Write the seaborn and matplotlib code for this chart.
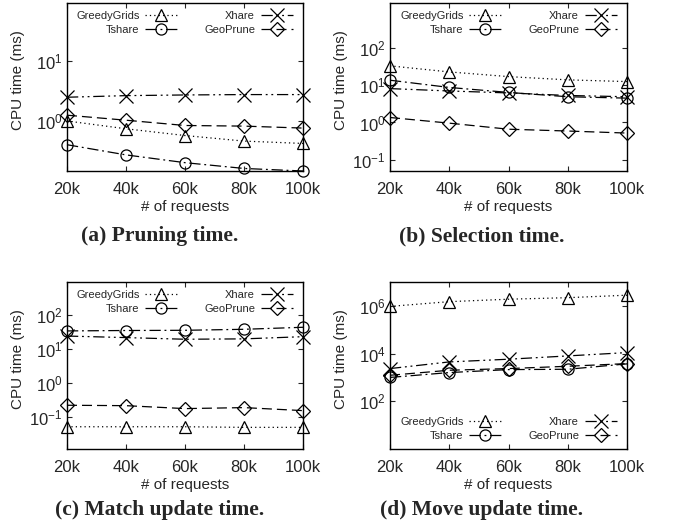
"""Four-panel CPU time comparison (pruning, selection, match update, move update)."""

import matplotlib
matplotlib.use("Agg")
import matplotlib.pyplot as plt
import matplotlib.ticker as mticker
import pandas as pd
import seaborn as sns

# ---- data -------------------------------------------------------------
requests = [20000, 40000, 60000, 80000, 100000]
request_labels = ["20k", "40k", "60k", "80k", "100k"]
methods = ["GreedyGrids", "Tshare", "Xhare", "GeoPrune"]

# (a) pruning time
greedy_a = [1.0, 0.74, 0.57, 0.46, 0.42]
tshare_a = [0.40, 0.27, 0.20, 0.16, 0.145]
xhare_a = [2.5, 2.66, 2.73, 2.77, 2.77]
geo_a = [1.25, 1.03, 0.84, 0.82, 0.76]

# (b) selection time
greedy_b = [33, 22.7, 17, 13.9, 12.5]
tshare_b = [13.6, 8.7, 6.4, 4.9, 4.5]
xhare_b = [8.1, 7.0, 6.2, 5.3, 4.9]
geo_b = [1.36, 0.96, 0.66, 0.59, 0.52]

# (c) match update time
greedy_c = [0.05, 0.05, 0.05, 0.048, 0.048]
tshare_c = [34, 35, 35.5, 38, 43.6]
xhare_c = [24, 21.6, 19.3, 19.8, 23]
geo_c = [0.216, 0.21, 0.172, 0.184, 0.15]

# (d) move update time
greedy_d = [0.95e6, 1.5e6, 1.9e6, 2.2e6, 2.8e6]
tshare_d = [1000, 1600, 2130, 2200, 3700]
xhare_d = [2350, 4470, 5800, 7970, 11000]
geo_d = [1230, 2000, 2350, 2940, 3800]

captions = ["(a) Pruning time.", "(b) Selection time.",
            "(c) Match update time.", "(d) Move update time."]

# ---- style ------------------------------------------------------------
sns.set_style("ticks")
plt.rcParams["font.family"] = ["Liberation Sans", "DejaVu Sans"]
plt.rcParams.update({
    "axes.linewidth": 1.0,
    "axes.unicode_minus": False,
    "xtick.direction": "in",
    "ytick.direction": "in",
    "xtick.top": True,
    "ytick.right": True,
    "xtick.major.size": 3.5,
    "ytick.major.size": 3.5,
    "xtick.minor.visible": False,
    "ytick.minor.visible": False,
    "axes.edgecolor": "black",
})

MARKERS = {"GreedyGrids": "^", "Tshare": "o", "Xhare": "x", "GeoPrune": "D"}
MSIZE = {"GreedyGrids": 8, "Tshare": 8, "Xhare": 10, "GeoPrune": 7}
DASHES = {
    "GreedyGrids": (1, 2.5),
    "Tshare": (9, 3, 1.5, 3),
    "Xhare": (9, 3, 1.5, 3, 1.5, 3),
    "GeoPrune": (8, 4),
}


def panel_frame(greedy, tshare, xhare, geo):
    rows = []
    for name, vals in zip(methods, [greedy, tshare, xhare, geo]):
        for r, v in zip(requests, vals):
            rows.append({"requests": r, "time": v, "method": name})
    return pd.DataFrame(rows)


panels = [
    (panel_frame(greedy_a, tshare_a, xhare_a, geo_a), (0.145, 95), [1, 10], "upper"),
    (panel_frame(greedy_b, tshare_b, xhare_b, geo_b), (0.05, 1600), [0.1, 1, 10, 100], "upper"),
    (panel_frame(greedy_c, tshare_c, xhare_c, geo_c), (0.011, 950), [0.1, 1, 10, 100], "upper"),
    (panel_frame(greedy_d, tshare_d, xhare_d, geo_d), (1, 1e7), [1e2, 1e4, 1e6], "lower"),
]

fig = plt.figure(figsize=(6.73, 5.29), dpi=100)
W, H = 673, 529
boxes = [(67, 3, 303, 171), (390, 3, 627, 171), (67, 282, 303, 449), (390, 282, 627, 449)]
caption_pos = [(160, 236), (482, 236), (160, 510), (482, 510)]
ylabel_x = [25, 348, 25, 348]

for (df, ylim, yticks, legpos), box, cap, cpos, ylx in zip(panels, boxes, captions, caption_pos, ylabel_x):
    x0, y0, x1, y1 = box
    ax = fig.add_axes([x0 / W, 1 - y1 / H, (x1 - x0) / W, (y1 - y0) / H])
    handles = []
    for m in methods:
        sub = df[df["method"] == m]
        sns.lineplot(data=sub, x="requests", y="time", ax=ax, color="black",
                     marker=MARKERS[m], markersize=MSIZE[m], linestyle=(0, DASHES[m]),
                     linewidth=0.9, mec="black", mfc="none", mew=0.9,
                     clip_on=False, legend=False)
        handles.append(ax.lines[-1])
    ax.set_yscale("log")
    ax.set_xlim(requests[0], requests[-1])
    ax.set_ylim(*ylim)
    ax.set_xticks(requests)
    ax.set_xticklabels(request_labels)
    ax.yaxis.set_major_locator(mticker.FixedLocator(yticks))
    ax.yaxis.set_major_formatter(mticker.LogFormatterSciNotation())
    ax.yaxis.set_minor_locator(mticker.NullLocator())
    ax.tick_params(axis="x", labelsize=12, pad=8)
    ax.tick_params(axis="y", labelsize=12, pad=3)
    ax.set_xlabel("# of requests", fontsize=11, labelpad=2)
    ax.set_ylabel("CPU time (ms)", fontsize=11)
    ax.yaxis.set_label_coords((ylx - x0) / (x1 - x0), 0.54)
    for s in ax.spines.values():
        s.set_visible(True)

    ax.legend(handles, methods, ncol=2, frameon=False, fontsize=8,
              markerfirst=False, handlelength=2.9, handletextpad=0.5,
              columnspacing=2.4, labelspacing=0.35,
              loc="upper right" if legpos == "upper" else "lower right",
              bbox_to_anchor=(0.99, 1.0) if legpos == "upper" else (0.99, 0.0),
              borderaxespad=0.3)
    fig.text(cpos[0] / W, 1 - cpos[1] / H, cap, ha="center", va="center",
             fontsize=15.5, fontweight="bold", family=["Liberation Serif", "DejaVu Serif"])

fig.savefig("out.png", dpi=100)
